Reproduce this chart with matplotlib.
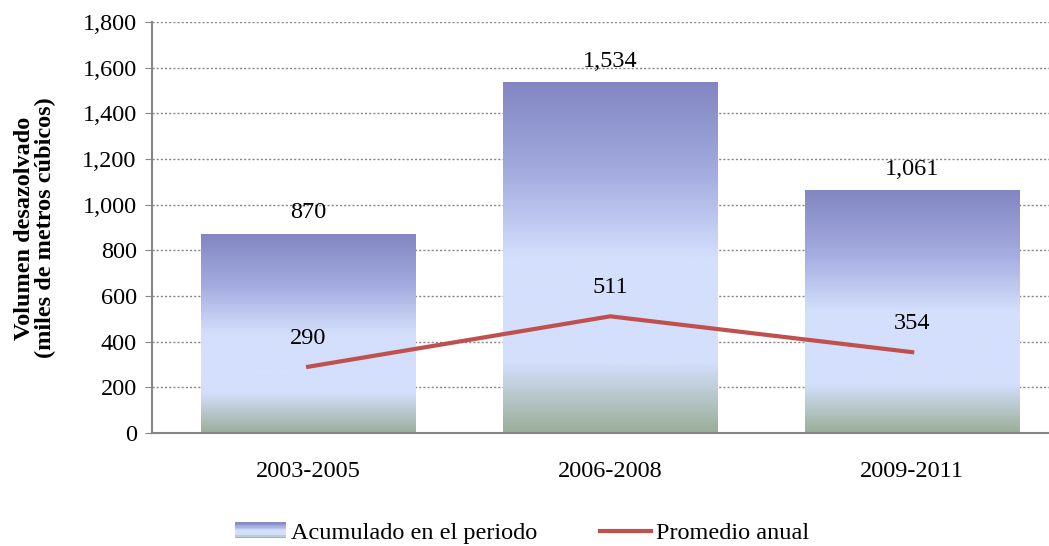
import matplotlib.pyplot as plt
import numpy as np
from matplotlib.colors import LinearSegmentedColormap
from matplotlib.legend_handler import HandlerBase
from matplotlib.lines import Line2D
from matplotlib.patches import Rectangle

periods = ['2003-2005', '2006-2008', '2009-2011']
acumulado = [870, 1534, 1061]
promedio = [290, 511, 354]
acum_labels = ['870', '1,534', '1,061']
prom_labels = ['290', '511', '354']

plt.rcParams['font.family'] = ['Liberation Serif', 'DejaVu Serif']
FS = 17.5

# gradient used in each bar (top -> bottom)
bar_cmap = LinearSegmentedColormap.from_list('bar', [
    (0.0, '#8286c2'),
    (0.25, '#a2aade'),
    (0.50, '#d4dffc'),
    (0.80, '#d4dffc'),
    (1.0, '#9aae98'),
])


class GradientHandler(HandlerBase):
    def create_artists(self, legend, orig_handle, xdescent, ydescent,
                       width, height, fontsize, trans):
        arts = []
        n = 12
        for i in range(n):
            c = bar_cmap((i + 0.5) / n)
            r = Rectangle((-xdescent, -ydescent + height * (n - 1 - i) / n),
                          width, height / n, facecolor=c, edgecolor='none',
                          transform=trans)
            arts.append(r)
        return arts


fig = plt.figure(figsize=(10.49, 5.46), dpi=100)
ax = fig.add_axes([152 / 1049, 1 - 433 / 546, 897 / 1049, 411 / 546])

x = np.arange(len(periods))
width = 0.71
grad = np.linspace(0, 1, 256).reshape(-1, 1)
for xi, h in zip(x, acumulado):
    ax.imshow(grad, cmap=bar_cmap, aspect='auto',
              extent=(xi - width / 2, xi + width / 2, 0, h),
              origin='upper', zorder=2)

ax.plot(x, promedio, color='#c0504d', linewidth=3, zorder=3)

for xi, h, lab in zip(x, acumulado, acum_labels):
    ax.annotate(lab, (xi, h), xytext=(0, 8), textcoords='offset points',
                ha='center', va='bottom', fontsize=FS)
for xi, v, lab in zip(x, promedio, prom_labels):
    ax.annotate(lab, (xi, v), xytext=(0, 13), textcoords='offset points',
                ha='center', va='bottom', fontsize=FS)

ax.set_xlim(-0.517, 2.453)
ax.set_ylim(0, 1800)
ax.set_yticks(range(0, 1801, 200))
ax.set_yticklabels([f'{v:,}' for v in range(0, 1801, 200)], fontsize=FS)
ax.set_xticks(x)
ax.set_xticklabels(periods, fontsize=FS)
ax.tick_params(axis='x', length=0, pad=20)
ax.tick_params(axis='y', length=5, color='#868686', pad=6)

ax.grid(axis='y', linestyle=(0, (1.5, 1.5)), color='#868686', linewidth=1, zorder=0)
ax.set_axisbelow(True)
for s in ['top', 'right']:
    ax.spines[s].set_visible(False)
for s in ['left', 'bottom']:
    ax.spines[s].set_color('#868686')
    ax.spines[s].set_linewidth(1.5)

fig.text(35 / 1049, 1 - 228 / 546, 'Volumen desazolvado\n(miles de metros cúbicos)',
         rotation=90, ha='center', va='center', fontsize=FS,
         fontweight='bold', linespacing=1.0)

bar_handle = Rectangle((0, 0), 1, 1)
line_handle = Line2D([], [], color='#c0504d', linewidth=3)
fig.legend([bar_handle, line_handle],
           ['Acumulado en el periodo', 'Promedio anual'],
           handler_map={Rectangle: GradientHandler()},
           loc='center', bbox_to_anchor=(522 / 1049, 1 - 533 / 546),
           ncol=2, frameon=False, fontsize=FS, handlelength=2.1,
           handletextpad=0.2, columnspacing=2.6, handleheight=0.6,
           borderpad=0.2)

plt.savefig('out.png', dpi=100)
plt.close()
